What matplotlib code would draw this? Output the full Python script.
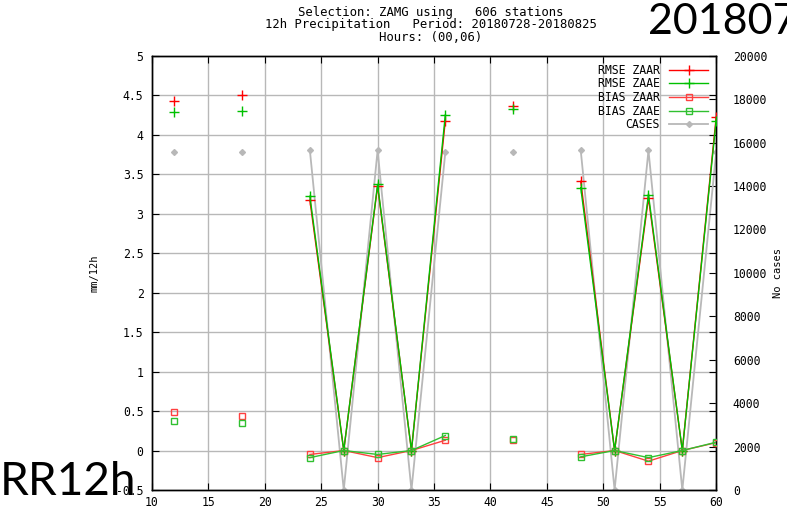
import numpy as np
import matplotlib
matplotlib.use('Agg')
from matplotlib import pyplot as plt

# forecast lead times (h); NaN rows break the lines like gnuplot missing data
hours = [12, 15, 18, 21, 24, 27, 30, 33, 36, 39, 42, 45, 48, 51, 54, 57, 60]
nan = np.nan
rmseZaar = [4.43, nan, 4.50, nan, 3.17, 0.0, 3.35, 0.0, 4.18, nan, 4.37, nan, 3.41, 0.0, 3.20, 0.0, 4.22]
rmseZaae = [4.29, nan, 4.30, nan, 3.22, 0.0, 3.37, 0.0, 4.25, nan, 4.32, nan, 3.33, 0.0, 3.24, 0.0, 4.18]
biasZaar = [0.49, nan, 0.44, nan, -0.05, 0.0, -0.09, 0.0, 0.13, nan, 0.13, nan, -0.05, 0.0, -0.135, 0.0, 0.10]
biasZaae = [0.37, nan, 0.35, nan, -0.09, 0.0, -0.05, 0.0, 0.19, nan, 0.14, nan, -0.08, 0.0, -0.09, 0.0, 0.105]
cases = [15550, nan, 15550, nan, 15640, 0, 15640, 0, 15550, nan, 15550, nan, 15640, 0, 15640, 0, 15550]

titleLines = ['Selection: ZAMG using   606 stations',
              '12h Precipitation   Period: 20180728-20180825',
              'Hours: (00,06)']

mono = 'DejaVu Sans Mono'
plt.rcParams['font.family'] = mono
plt.rcParams['font.size'] = 8.3

fig = plt.figure(figsize=(7.87, 5.12), dpi=100)
ax = fig.add_axes([0.193, 0.043, 0.717, 0.848])
ax2 = ax.twinx()

ax.set_xlim(10, 60)
ax.set_ylim(-0.5, 5)
ax2.set_ylim(0, 20000)
ax.set_xticks(np.arange(10, 61, 5))
ax.set_yticks(np.arange(-0.5, 5.01, 0.5))
ax.set_yticklabels(['-0.5', '0', '0.5', '1', '1.5', '2', '2.5', '3', '3.5', '4', '4.5', '5'])
ax2.set_yticks(np.arange(0, 20001, 2000))
ax.grid(True, color='#b8b8b8', linewidth=1.0)
ax.tick_params(direction='in', length=5, color='black', pad=6, top=True, right=True)
ax.tick_params(axis='x', pad=4)
ax2.tick_params(direction='in', length=5, color='black', pad=12)
for a in (ax, ax2):
    for s in a.spines.values():
        s.set_linewidth(1.0)

ax.set_ylabel('mm/12h', labelpad=12, fontsize=7.5)
ax2.set_ylabel('No cases', labelpad=4, fontsize=7.5)

ax.plot(hours, rmseZaar, color='#ff0000', lw=1, marker='+', ms=7, mew=1, label='RMSE ZAAR', zorder=5)
ax.plot(hours, rmseZaae, color='#00c000', lw=1, marker='+', ms=7, mew=1, label='RMSE ZAAE', zorder=5)
ax.plot(hours, biasZaar, color='#ff4040', lw=1, marker='s', ms=5, mfc='none', mew=1, label='BIAS ZAAR', zorder=5)
ax.plot(hours, biasZaae, color='#30c030', lw=1, marker='s', ms=5, mfc='none', mew=1, label='BIAS ZAAE', zorder=5)
casesLine, = ax2.plot(hours, cases, color='#b8b8b8', lw=1.3, marker='D', ms=3, label='CASES')

handles, labels = ax.get_legend_handles_labels()
handles.append(casesLine)
labels.append('CASES')
leg = ax.legend(handles, labels, loc='upper right', frameon=False, markerfirst=False, numpoints=1,
                handlelength=3.4, labelspacing=0.05, borderaxespad=0.3, fontsize=8.3)
ax.set_zorder(ax2.get_zorder() + 1)
ax.patch.set_visible(False)

for i, line in enumerate(titleLines):
    fig.text(0.547, 0.976 - i * 0.0245, line, ha='center', va='center', fontsize=8.8)

fig.text(0.823, 0.934, '201807', fontsize=31, family='Lato', ha='left', va='baseline')
fig.text(0.0, 0.033, 'RR12h', fontsize=33, family='Lato', ha='left', va='baseline')

fig.savefig('out.png', dpi=100)
